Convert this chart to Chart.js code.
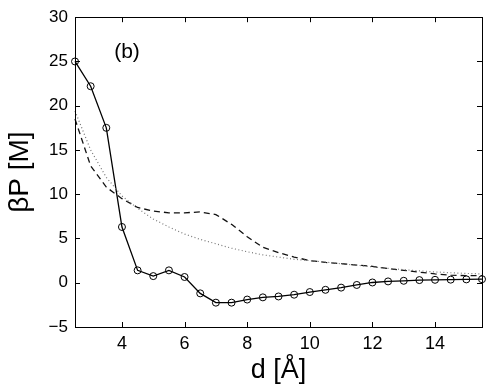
<!DOCTYPE html>
<html>
<head>
<meta charset="utf-8">
<script src="https://cdn.jsdelivr.net/npm/chart.js@4"></script>
<style>
html, body { margin: 0; padding: 0; background: #fff; }
#wrap { width: 488px; height: 388px; }
</style>
</head>
<body>
<div id="wrap"><canvas id="c" width="488" height="388"></canvas></div>
<script>
// distances d [A], 0.5 step
var d_vals = [2.5, 3, 3.5, 4, 4.5, 5, 5.5, 6, 6.5, 7, 7.5, 8, 8.5, 9, 9.5, 10,
	10.5, 11, 11.5, 12, 12.5, 13, 13.5, 14, 14.5, 15, 15.5];

// simulation (circles)
var sim_vals = [25, 22.2, 17.5, 6.3, 1.4, 0.75, 1.4, 0.65, -1.2, -2.25, -2.25, -1.9, -1.65, -1.55,
	-1.35, -1.05, -0.8, -0.55, -0.25, 0.03, 0.15, 0.22, 0.3, 0.33, 0.35, 0.38, 0.4];

// theory, dashed
var dash_vals = [18.5, 13.2, 10.8, 9.5, 8.5, 8.1, 7.9, 7.9, 8.0, 7.7, 6.6, 5.2, 4.0, 3.4,
	2.9, 2.5, 2.3, 2.15, 2.0, 1.85, 1.6, 1.4, 1.2, 1.0, 0.85, 0.8, 0.8];

// theory, dotted
var dot_vals = [19.4, 15.0, 11.9, 9.8, 8.4, 7.2, 6.3, 5.5, 4.9, 4.4, 3.9, 3.5, 3.15, 2.9,
	2.65, 2.5, 2.33, 2.15, 1.98, 1.8, 1.62, 1.48, 1.35, 1.22, 1.13, 1.05, 1.0];

var x_ticks = [4, 6, 8, 10, 12, 14];
var y_ticks = [-5, 0, 5, 10, 15, 20, 25, 30];

function pts(xs, ys) {
	var out = [];
	for (var i = 0; i < xs.length; i++) out.push({x: xs[i], y: ys[i]});
	return out;
}

var FONT = 'Liberation Sans';

// box + inward ticks on all four sides, plus the (b) label
var frame_plugin = {
	id: 'frame',
	afterDraw: function(chart) {
		var ctx = chart.ctx;
		var a = chart.chartArea;
		var xs = chart.scales.x, ys = chart.scales.y;
		var len = 5;
		ctx.save();
		ctx.strokeStyle = '#000';
		ctx.lineWidth = 1;
		ctx.beginPath();
		x_ticks.forEach(function(v) {
			var px = Math.round(xs.getPixelForValue(v)) + 0.5;
			ctx.moveTo(px, a.bottom); ctx.lineTo(px, a.bottom - len);
			ctx.moveTo(px, a.top); ctx.lineTo(px, a.top + len);
		});
		y_ticks.forEach(function(v) {
			var py = Math.round(ys.getPixelForValue(v)) + 0.5;
			ctx.moveTo(a.left, py); ctx.lineTo(a.left + len, py);
			ctx.moveTo(a.right, py); ctx.lineTo(a.right - len, py);
		});
		ctx.stroke();
		ctx.strokeRect(Math.round(a.left) + 0.5, Math.round(a.top) + 0.5,
			Math.round(a.right - a.left), Math.round(a.bottom - a.top));

		ctx.fillStyle = '#000';
		ctx.font = '21px "' + FONT + '"';
		ctx.textAlign = 'center';
		ctx.textBaseline = 'middle';
		ctx.fillText('(b)', 127, 52);
		ctx.restore();
	}
};

new Chart(document.getElementById('c'), {
	type: 'line',
	data: {
		datasets: [{
			data: pts(d_vals, dot_vals),
			borderColor: '#777',
			borderWidth: 1.2,
			borderDash: [1, 2.5],
			pointRadius: 0,
			tension: 0
		}, {
			data: pts(d_vals, dash_vals),
			borderColor: '#111',
			borderWidth: 1.3,
			borderDash: [6, 4],
			pointRadius: 0,
			tension: 0
		}, {
			data: pts(d_vals, sim_vals),
			borderColor: '#000',
			borderWidth: 1.3,
			pointRadius: 3.5,
			pointBorderWidth: 1,
			pointBorderColor: '#000',
			pointBackgroundColor: 'rgba(0,0,0,0)',
			tension: 0
		}]
	},
	options: {
		responsive: false,
		animation: false,
		clip: false,
		layout: { padding: { top: 17, right: 6, left: 0, bottom: 0 } },
		plugins: { legend: { display: false }, tooltip: { enabled: false } },
		scales: {
			x: {
				type: 'linear',
				min: 2.5, max: 15.5,
				grid: { display: false, drawTicks: false },
				border: { display: false },
				afterBuildTicks: function(s) { s.ticks = x_ticks.map(function(v) { return {value: v}; }); },
				afterFit: function(s) { s.height = 61; },
				ticks: { color: '#000', font: { family: FONT, size: 18 }, padding: 6, maxRotation: 0 },
				title: { display: true, text: 'd [Å]', color: '#000', font: { family: FONT, size: 27 }, padding: { top: 0, bottom: 1 } }
			},
			y: {
				min: -5, max: 30,
				grid: { display: false, drawTicks: false },
				border: { display: false },
				afterBuildTicks: function(s) { s.ticks = y_ticks.map(function(v) { return {value: v}; }); },
				afterFit: function(s) { s.width = 75; },
				ticks: { color: '#000', font: { family: FONT, size: 17 }, padding: 7,
					callback: function(v) { return v < 0 ? '\u2212' + Math.abs(v) : v; } },
				title: { display: true, text: 'βP [M]', color: '#000', font: { family: FONT, size: 28 }, padding: { top: 3, bottom: 0 } }
			}
		}
	},
	plugins: [frame_plugin]
});
</script>
</body>
</html>
